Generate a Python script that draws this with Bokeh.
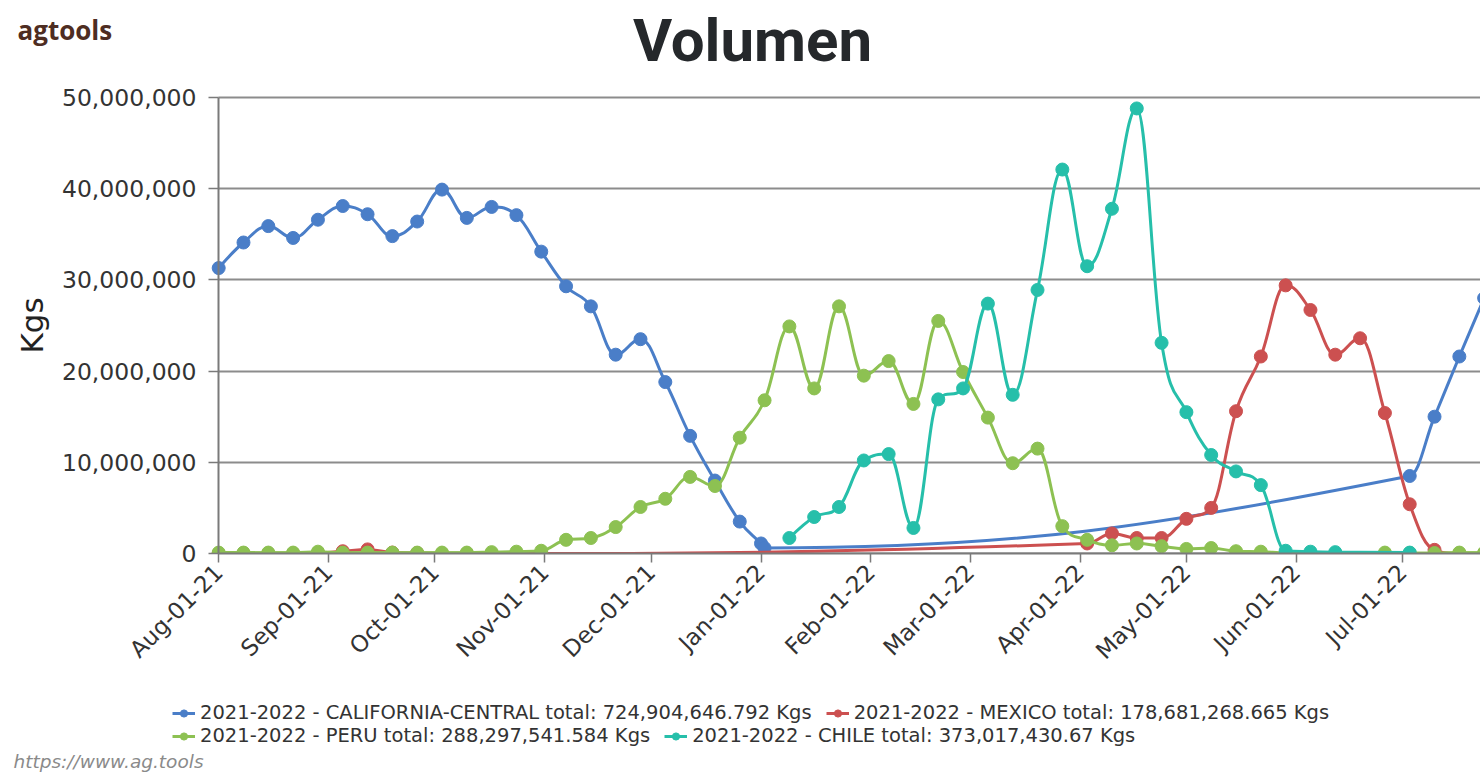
import math
from datetime import datetime
from bokeh.plotting import figure
from bokeh.models import (Range1d, FixedTicker, NumeralTickFormatter, Legend,
                          LegendItem, Label)
from bokeh.embed import file_html
from bokeh.resources import INLINE

# ---------------- data ----------------
cal_dates = ["2021-08-01", "2021-08-08", "2021-08-15", "2021-08-22", "2021-08-29",
             "2021-09-05", "2021-09-12", "2021-09-19", "2021-09-26", "2021-10-03",
             "2021-10-10", "2021-10-17", "2021-10-24", "2021-10-31", "2021-11-07",
             "2021-11-14", "2021-11-21", "2021-11-28", "2021-12-05", "2021-12-12",
             "2021-12-19", "2021-12-26", "2022-01-01", "2022-01-02", "2022-07-03",
             "2022-07-10", "2022-07-17", "2022-07-24"]
cal_values = [31.3e6, 34.1e6, 35.9e6, 34.6e6, 36.6e6, 38.1e6, 37.2e6, 34.8e6, 36.4e6,
              39.9e6, 36.8e6, 38.0e6, 37.1e6, 33.1e6, 29.3e6, 27.1e6, 21.8e6, 23.5e6,
              18.8e6, 12.9e6, 8.0e6, 3.5e6, 1.1e6, 0.6e6, 8.5e6, 15.0e6, 21.6e6, 28.0e6]

mex_dates = ["2021-08-01", "2021-08-08", "2021-08-15", "2021-08-22", "2021-08-29",
             "2021-09-05", "2021-09-12", "2021-09-19", "2021-09-26", "2021-10-03",
             "2021-10-10", "2021-10-17", "2021-10-24", "2021-10-31", "2022-04-03",
             "2022-04-10", "2022-04-17", "2022-04-24", "2022-05-01", "2022-05-08",
             "2022-05-15", "2022-05-22", "2022-05-29", "2022-06-05", "2022-06-12",
             "2022-06-19", "2022-06-26", "2022-07-03", "2022-07-10", "2022-07-17",
             "2022-07-24"]
mex_values = [0.0, 0.0, 0.0, 0.0, 0.05e6, 0.25e6, 0.45e6, 0.1e6, 0.05e6, 0.0,
              0.0, 0.0, 0.0, 0.0, 1.1e6, 2.2e6, 1.7e6, 1.7e6, 3.8e6, 5.0e6,
              15.6e6, 21.6e6, 29.4e6, 26.7e6, 21.8e6, 23.6e6, 15.4e6, 5.4e6, 0.4e6, 0.0,
              0.0]

peru_dates = ["2021-08-01", "2021-08-08", "2021-08-15", "2021-08-22", "2021-08-29",
              "2021-09-05", "2021-09-12", "2021-09-19", "2021-09-26", "2021-10-03",
              "2021-10-10", "2021-10-17", "2021-10-24", "2021-10-31", "2021-11-07",
              "2021-11-14", "2021-11-21", "2021-11-28", "2021-12-05", "2021-12-12",
              "2021-12-19", "2021-12-26", "2022-01-02", "2022-01-09", "2022-01-16",
              "2022-01-23", "2022-01-30", "2022-02-06", "2022-02-13", "2022-02-20",
              "2022-02-27", "2022-03-06", "2022-03-13", "2022-03-20", "2022-03-27",
              "2022-04-03", "2022-04-10", "2022-04-17", "2022-04-24", "2022-05-01",
              "2022-05-08", "2022-05-15", "2022-05-22", "2022-05-29", "2022-06-05",
              "2022-06-12", "2022-06-26", "2022-07-03", "2022-07-10", "2022-07-17",
              "2022-07-24"]
peru_values = [0.1e6, 0.1e6, 0.1e6, 0.1e6, 0.2e6, 0.1e6, 0.1e6, 0.1e6, 0.1e6, 0.1e6,
               0.1e6, 0.15e6, 0.2e6, 0.3e6, 1.5e6, 1.7e6, 2.9e6, 5.1e6, 6.0e6, 8.4e6,
               7.4e6, 12.7e6, 16.8e6, 24.9e6, 18.1e6, 27.1e6, 19.5e6, 21.1e6, 16.4e6, 25.5e6,
               19.9e6, 14.9e6, 9.9e6, 11.5e6, 3.0e6, 1.5e6, 0.9e6, 1.1e6, 0.8e6, 0.5e6,
               0.6e6, 0.25e6, 0.2e6, 0.05e6, 0.02e6, 0.02e6, 0.1e6, 0.05e6, 0.05e6, 0.1e6,
               0.1e6]

chile_dates = ["2022-01-09", "2022-01-16", "2022-01-23", "2022-01-30", "2022-02-06",
               "2022-02-13", "2022-02-20", "2022-02-27", "2022-03-06", "2022-03-13",
               "2022-03-20", "2022-03-27", "2022-04-03", "2022-04-10", "2022-04-17",
               "2022-04-24", "2022-05-01", "2022-05-08", "2022-05-15", "2022-05-22",
               "2022-05-29", "2022-06-05", "2022-06-12", "2022-07-03"]
chile_values = [1.7e6, 4.0e6, 5.1e6, 10.2e6, 10.9e6, 2.8e6, 16.9e6, 18.1e6, 27.4e6, 17.4e6,
                28.9e6, 42.1e6, 31.5e6, 37.8e6, 48.8e6, 23.1e6, 15.5e6, 10.8e6, 9.0e6, 7.5e6,
                0.3e6, 0.2e6, 0.15e6, 0.1e6]

series_names = ["2021-2022 - CALIFORNIA-CENTRAL total: 724,904,646.792 Kgs",
                "2021-2022 - MEXICO total: 178,681,268.665 Kgs",
                "2021-2022 - PERU total: 288,297,541.584 Kgs",
                "2021-2022 - CHILE total: 373,017,430.67 Kgs"]
series_colors = ["#4a7ec8", "#cc5050", "#8dc152", "#26bfaa"]

tick_dates = ["2021-08-01", "2021-09-01", "2021-10-01", "2021-11-01", "2021-12-01",
              "2022-01-01", "2022-02-01", "2022-03-01", "2022-04-01", "2022-05-01",
              "2022-06-01", "2022-07-01"]
tick_labels = ["Aug-01-21", "Sep-01-21", "Oct-01-21", "Nov-01-21", "Dec-01-21",
               "Jan-01-22", "Feb-01-22", "Mar-01-22", "Apr-01-22", "May-01-22",
               "Jun-01-22", "Jul-01-22"]
y_ticks = [0, 10e6, 20e6, 30e6, 40e6, 50e6]

title_text = "Volumen"
brand_text = "agtools"
source_text = "https://www.ag.tools"

EPOCH = datetime(1970, 1, 1)
NAN = float("nan")
DAY = 86400000.0


def to_ms(s):
    return (datetime.strptime(s, "%Y-%m-%d") - EPOCH).total_seconds() * 1000.0


def spline(xs, ys, smoothing=1.5):
    """Highcharts-style spline control points (drawing only)."""
    n = len(xs)
    denom = smoothing + 1
    lcx, lcy, rcx, rcy = list(xs), list(ys), list(xs), list(ys)
    for i in range(1, n - 1):
        x, y = xs[i], ys[i]
        lx, ly = xs[i - 1], ys[i - 1]
        nx, ny = xs[i + 1], ys[i + 1]
        a = (smoothing * x + lx) / denom
        b = (smoothing * y + ly) / denom
        c = (smoothing * x + nx) / denom
        d = (smoothing * y + ny) / denom
        if c != a:
            corr = (d - b) * (c - x) / (c - a) + y - d
            b += corr
            d += corr
        if b > ly and b > y:
            b = max(ly, y); d = 2 * y - b
        elif b < ly and b < y:
            b = min(ly, y); d = 2 * y - b
        if d > ny and d > y:
            d = max(ny, y); b = 2 * y - d
        elif d < ny and d < y:
            d = min(ny, y); b = 2 * y - d
        lcx[i], lcy[i], rcx[i], rcy[i] = a, b, c, d
    return dict(x0=xs[:-1], y0=ys[:-1], x1=xs[1:], y1=ys[1:],
                cx0=rcx[:-1], cy0=rcy[:-1], cx1=lcx[1:], cy1=lcy[1:])


# ---------------- layout (pixels on the 1480x774 canvas) ----------------
W, H = 1480, 774
PL, PR, PT, PB = 218, 1480, 97, 553          # plot area edges
X0 = to_ms("2021-07-31") + 0.95 * DAY        # date at the left edge of plot area
X1 = to_ms("2022-07-22") + 0.97 * DAY        # date at the right edge
Y0, Y1 = 0.0, 50e6
xs_per_px = (X1 - X0) / (PR - PL)
ys_per_px = (Y1 - Y0) / (PB - PT)
XS, XE = X0 - PL * xs_per_px, X1 + (W - PR) * xs_per_px
YS, YE = Y0 - (H - PB) * ys_per_px, Y1 + PT * ys_per_px

FONT = "DejaVu Sans"
TXT = "#333333"
AX = "#7a7a7a"

p = figure(width=W, height=H, x_axis_type="datetime",
           output_backend="svg", toolbar_location=None,
           x_range=Range1d(XS, XE), y_range=Range1d(YS, YE),
           min_border=0, min_border_left=0, min_border_right=0,
           min_border_top=0, min_border_bottom=0)
p.outline_line_color = None
p.background_fill_color = "white"
p.border_fill_color = "white"

# axes drawn at fixed positions inside the canvas
xa = p.xaxis[0]
xa.fixed_location = Y0
xa.bounds = (X0, X1)
xa.ticker = FixedTicker(ticks=[to_ms(d) for d in tick_dates])
xa.major_label_overrides = {to_ms(d): l for d, l in zip(tick_dates, tick_labels)}
xa.major_label_orientation = math.pi / 4
xa.major_label_text_font = FONT
xa.major_label_text_font_size = "23px"
xa.major_label_text_color = TXT
xa.major_label_standoff = 6
xa.major_tick_out = 9
xa.major_tick_in = 0
xa.minor_tick_line_color = None
xa.axis_line_color = AX
xa.axis_line_width = 2
xa.major_tick_line_color = AX
xa.major_tick_line_width = 1.5

ya = p.yaxis[0]
ya.fixed_location = X0
ya.bounds = (Y0, Y1)
ya.ticker = FixedTicker(ticks=y_ticks)
ya.formatter = NumeralTickFormatter(format="0,0")
ya.major_label_text_font = FONT
ya.major_label_text_font_size = "23.5px"
ya.major_label_text_color = TXT
ya.major_label_standoff = 12
ya.major_tick_out = 10
ya.major_tick_in = 0
ya.minor_tick_line_color = None
ya.axis_line_color = AX
ya.axis_line_width = 2
ya.major_tick_line_color = AX
ya.major_tick_line_width = 1.5
ya.axis_label = "Kgs"
ya.axis_label_text_font = FONT
ya.axis_label_text_font_style = "normal"
ya.axis_label_text_font_size = "31px"
ya.axis_label_text_color = "#222222"
ya.axis_label_standoff = 9

p.xgrid.grid_line_color = None
p.ygrid.grid_line_color = "#8c8c8c"
p.ygrid.grid_line_width = 2
try:
    p.ygrid.cross_bounds = (X0, X1)
except Exception:
    pass

# series
all_series = [(cal_dates, cal_values), (mex_dates, mex_values),
              (peru_dates, peru_values), (chile_dates, chile_values)]
legend_items = []
for (dates, vals), name, col in zip(all_series, series_names, series_colors):
    xs = [to_ms(d) for d in dates]
    seg = spline(xs, list(vals))
    p.bezier(x0="x0", y0="y0", x1="x1", y1="y1", cx0="cx0", cy0="cy0",
             cx1="cx1", cy1="cy1", source=seg, line_color=col, line_width=3)
    p.scatter(xs, list(vals), size=13, fill_color=col, line_color=col)
    lr = p.line([NAN], [NAN], line_color=col, line_width=3)
    mr = p.scatter([NAN], [NAN], size=7, fill_color=col, line_color=col)
    legend_items.append(LegendItem(label=name, renderers=[lr, mr]))

# white mask below the zero line (plot-area clipping of markers)
p.quad(left=[XS], right=[XE], bottom=[YS], top=[Y0], fill_color="white", line_color=None)


def series_legend(items, loc):
    lg = Legend(items=items, location=loc, orientation="horizontal")
    lg.padding = 0
    lg.margin = 0
    lg.spacing = 14
    lg.border_line_color = None
    lg.background_fill_alpha = 0
    lg.click_policy = "none"
    lg.label_text_font = FONT
    lg.label_text_font_size = "19.5px"
    lg.label_text_color = TXT
    lg.glyph_width = 23
    lg.glyph_height = 18
    lg.label_standoff = 5
    return lg


# legend rows: location = bottom-left corner, pixels from the canvas bottom-left
p.add_layout(series_legend(legend_items[:2], (172, H - 724)))
p.add_layout(series_legend(legend_items[2:], (172, H - 747)))

# texts (screen positions measured from the canvas bottom-left)
p.add_layout(Label(x=752, y=H - 40, x_units="screen", y_units="screen", text=title_text,
                   text_font="Roboto", text_font_style="bold",
                   text_font_size="60px", text_color="#25282b", text_align="center",
                   text_baseline="alphabetic"))
p.add_layout(Label(x=17, y=H - 29, x_units="screen", y_units="screen", text=brand_text,
                   text_font="Open Sans", text_font_style="bold",
                   text_font_size="26px", text_color="#4e2d22", text_align="left",
                   text_baseline="alphabetic"))
p.add_layout(Label(x=13, y=H - 761, x_units="screen", y_units="screen", text=source_text,
                   text_font=FONT, text_font_style="italic",
                   text_font_size="18.5px", text_color="#8a8a8a", text_align="left",
                   text_baseline="alphabetic"))

open("out.html", "w").write(file_html(p, INLINE))
